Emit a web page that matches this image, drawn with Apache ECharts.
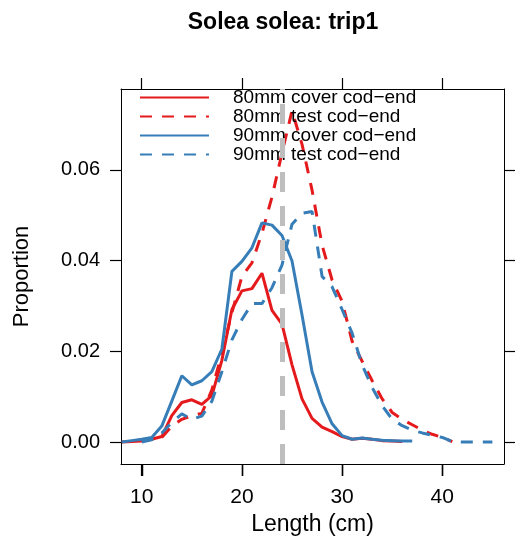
<!DOCTYPE html>
<html>
<head>
<meta charset="utf-8">
<script src="https://cdn.jsdelivr.net/npm/echarts@6/dist/echarts.min.js"></script>
<style>html,body{margin:0;padding:0;background:#fff;}#c{width:525px;height:552px;}</style>
</head>
<body>
<div id="c"></div>
<script>
const titleText = 'Solea solea: trip1';
const seriesNames = ['80mm cover cod\u2212end', '80mm test cod\u2212end', '90mm cover cod\u2212end', '90mm test cod\u2212end'];

const redCoverX = [8,9,10,11,12,13,14,15,16,17,18,19,20,21,22,23,24,25,26,27,28,29,30,31,32,33,34,35,36];
const redCoverY = [0,0.0001,0.0002,0.0006,0.0012,0.0058,0.0087,0.0093,0.0083,0.0102,0.018,0.0292,0.0333,0.0338,0.0372,0.029,0.026,0.017,0.0095,0.0052,0.0033,0.0023,0.0012,0.0006,0.0008,0.0006,0.0003,0.0002,0.0001];

const redTestX = [12,13,14,15,16,17,18,19,20,21,22,23,24,25,26,27,28,29,30,31,32,33,34,35,36,37,38,39,40,41];
const redTestY = [0.001,0.0035,0.005,0.0058,0.0063,0.0115,0.0195,0.0285,0.0365,0.0395,0.046,0.054,0.0637,0.073,0.0656,0.0555,0.0434,0.0357,0.031,0.0222,0.0178,0.0135,0.0095,0.0065,0.005,0.0038,0.0026,0.0017,0.001,0.0001];

const blueCoverX = [8,9,10,11,12,13,14,15,16,17,18,19,20,21,22,23,24,25,26,27,28,29,30,31,32,33,34,35,36,37];
const blueCoverY = [0,0.0003,0.0006,0.001,0.0035,0.009,0.0146,0.0126,0.0135,0.0155,0.0205,0.0376,0.0398,0.0428,0.0483,0.0478,0.0455,0.0399,0.028,0.0155,0.0088,0.004,0.0014,0.0006,0.0009,0.0006,0.0004,0.0003,0.0002,0.0002];

const blueTestX = [10,11,12,13,14,15,16,17,18,19,20,21,22,23,24,25,26,27,28,29,30,31,32,33,34,35,36,37,38,39,40,41,42,43,44,45];
const blueTestY = [0,0.0005,0.002,0.0043,0.0062,0.005,0.0057,0.009,0.0155,0.0225,0.027,0.0305,0.0305,0.034,0.039,0.048,0.0504,0.0508,0.0365,0.0342,0.0292,0.024,0.017,0.012,0.008,0.005,0.0036,0.0026,0.002,0.0015,0.001,0.0001,0,0,0,0];

const refLength = 24;
const xTicks = [10, 20, 30, 40];
const yTicks = [0, 0.02, 0.04, 0.06];

const RED = '#E41A1C', BLUE = '#377EB8';
const FONT = 'Liberation Sans, Arial, sans-serif';
const pair = (xs, ys) => xs.map((x, i) => [x, ys[i]]);

const xMin = 7.93, xMax = 46.16, yMin = -0.00485, yMax = 0.0778;
const TICK_LEN = 12;

const chart = echarts.init(document.getElementById('c'), null, {renderer: 'canvas'});
const mkLine = (name, data, color, dashed, extra) => Object.assign({
  name, type: 'line', data, showSymbol: false, symbol: 'none', smooth: false,
  lineStyle: {color, width: 3, type: dashed ? [12, 10] : 'solid'},
  itemStyle: {color}, animation: false, clip: true
}, extra || {});

const tickStyle = {color: '#000', width: 1.2};
const lineAx = {show: true, onZero: false, lineStyle: {color: '#000', width: 1}};

chart.setOption({
  animation: false,
  textStyle: {fontFamily: FONT},
  title: {text: titleText, left: 278, top: 6, textAlign: 'center',
    textStyle: {fontSize: 23, fontWeight: 'bold', color: '#000', fontFamily: FONT}},
  grid: {left: 121, right: 21, top: 89, bottom: 88, show: false},
  legend: {
    orient: 'vertical', left: 139, top: 88, padding: 0, itemWidth: 69, itemHeight: 10, itemGap: 0,
    itemStyle: {color: 'rgba(0,0,0,0)', borderColor: 'rgba(0,0,0,0)', borderWidth: 0, opacity: 0},
    textStyle: {fontSize: 19, color: '#000', fontFamily: FONT, lineHeight: 19, padding: [0, 0, 0, 19]},
    data: seriesNames
  },
  xAxis: [{
    type: 'value', min: xMin, max: xMax, position: 'bottom',
    axisLine: lineAx, splitLine: {show: false},
    axisTick: {show: true, inside: false, customValues: xTicks, length: TICK_LEN, lineStyle: tickStyle},
    axisLabel: {customValues: xTicks, fontSize: 21, color: '#000', margin: 23, fontFamily: FONT},
    name: 'Length (cm)', nameLocation: 'middle', nameGap: 49,
    nameTextStyle: {fontSize: 23, color: '#000', fontFamily: FONT}
  }, {
    type: 'value', min: xMin, max: xMax, position: 'top',
    axisLine: lineAx, splitLine: {show: false},
    axisTick: {show: true, inside: false, customValues: xTicks, length: 11, lineStyle: tickStyle},
    axisLabel: {show: false, customValues: xTicks}
  }],
  yAxis: [{
    type: 'value', min: yMin, max: yMax, position: 'left',
    axisLine: lineAx, splitLine: {show: false},
    axisTick: {show: true, inside: false, customValues: yTicks, length: 11, lineStyle: tickStyle},
    axisLabel: {customValues: yTicks, fontSize: 20, color: '#000', margin: 21, fontFamily: FONT,
      formatter: v => v.toFixed(2)},
    name: 'Proportion', nameLocation: 'middle', nameGap: 88, nameRotate: 90,
    nameTextStyle: {fontSize: 22, color: '#000', fontFamily: FONT}
  }, {
    type: 'value', min: yMin, max: yMax, position: 'right',
    axisLine: lineAx, splitLine: {show: false},
    axisTick: {show: true, inside: false, customValues: yTicks, length: 11, lineStyle: tickStyle},
    axisLabel: {show: false, customValues: yTicks}
  }],
  series: [
    mkLine(seriesNames[0], pair(redCoverX, redCoverY), RED, false),
    mkLine(seriesNames[1], pair(redTestX, redTestY), RED, true),
    mkLine(seriesNames[2], pair(blueCoverX, blueCoverY), BLUE, false),
    mkLine(seriesNames[3], pair(blueTestX, blueTestY), BLUE, true, {
      markLine: {
        silent: true, symbol: 'none', label: {show: false}, animation: false,
        lineStyle: {color: '#BEBEBE', width: 5, type: [20, 14]},
        data: [{xAxis: refLength}]
      }
    })
  ]
});

// Bottom tick marks, positioned through the axis scale
const yBottom = chart.convertToPixel({yAxisIndex: 0}, yMin);
chart.setOption({
  graphic: xTicks.map(v => {
    const px = Math.round(chart.convertToPixel({xAxisIndex: 0}, v)) + 0.5;
    return {type: 'line', silent: true, zlevel: 1, z: 100,
      shape: {x1: px, y1: yBottom, x2: px, y2: yBottom + TICK_LEN},
      style: {stroke: '#000', lineWidth: 1.5}};
  })
});
</script>
</body>
</html>
